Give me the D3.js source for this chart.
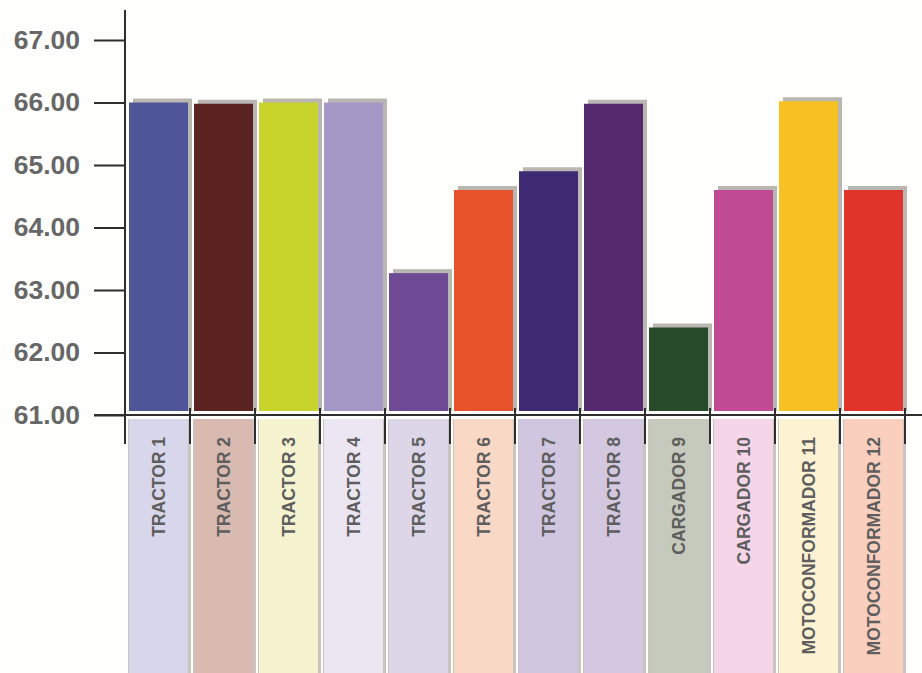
<!DOCTYPE html>
<html>
<head>
<meta charset="utf-8">
<script src="https://cdn.jsdelivr.net/npm/d3@7"></script>
<style>
  html, body { margin: 0; padding: 0; background: #fefefc; }
  svg { display: block; }
</style>
</head>
<body>
<svg id="chart" width="922" height="673"></svg>
<script>
const categories = ["TRACTOR 1","TRACTOR 2","TRACTOR 3","TRACTOR 4","TRACTOR 5","TRACTOR 6","TRACTOR 7","TRACTOR 8","CARGADOR 9","CARGADOR 10","MOTOCONFORMADOR 11","MOTOCONFORMADOR 12"];
const values = [66.0, 65.98, 66.0, 66.0, 63.27, 64.6, 64.9, 65.98, 62.4, 64.6, 66.02, 64.6];
const barColors = ["#4f5698","#5a2220","#c8d42c","#a698c6","#6e4a94","#e8522a","#3e2a72","#55296e","#274b2a","#c04a93","#f8c123","#e0332a"];
const boxColors = ["#d8d6ea","#d8bab0","#f5f3d0","#ece6f2","#ddd6e8","#fad8c6","#d0c6e0","#d4c8e0","#c6cabc","#f4d6e8","#fdf2d2","#fbcfbe"];
const yTicks = [61, 62, 63, 64, 65, 66, 67];

const svg = d3.select("#chart");
const axisY = 415, axisX = 125;
const y = d3.scaleLinear().domain([61, 67]).range([axisY, 40]);
const x = d3.scaleBand().domain(categories).range([axisX, 905]).padding(0);
const bw = x.bandwidth();
const barInset = 4, barW = bw - 6, barBottom = 411;

// bar shadows
svg.append("g").selectAll("rect").data(categories).join("rect")
  .attr("x", d => x(d) + barInset + 4)
  .attr("y", (d, i) => y(values[i]) - 4)
  .attr("width", barW)
  .attr("height", (d, i) => barBottom - (y(values[i]) - 4))
  .attr("fill", "#bab6b2");

// bars
svg.append("g").selectAll("rect").data(categories).join("rect")
  .attr("x", d => x(d) + barInset)
  .attr("y", (d, i) => y(values[i]))
  .attr("width", barW)
  .attr("height", (d, i) => barBottom - y(values[i]))
  .attr("fill", (d, i) => barColors[i]);

// label box shadows
svg.append("g").selectAll("rect").data(categories).join("rect")
  .attr("x", d => x(d) + barInset - 1)
  .attr("y", 419)
  .attr("width", barW + 4)
  .attr("height", 254)
  .attr("fill", "#c8c4c0");

// label boxes
svg.append("g").selectAll("rect").data(categories).join("rect")
  .attr("x", d => x(d) + barInset)
  .attr("y", 419)
  .attr("width", barW)
  .attr("height", 254)
  .attr("fill", (d, i) => boxColors[i]);

// category labels
svg.append("g").selectAll("text").data(categories).join("text")
  .attr("transform", d => `translate(${x(d) + barInset + barW / 2},437) rotate(-90)`)
  .attr("text-anchor", "end")
  .attr("dy", "0.36em")
  .attr("font-family", "'Liberation Sans', Arial, sans-serif")
  .attr("font-weight", "bold")
  .attr("font-size", "17.5px")
  .attr("fill", "#5e5e5e")
  .text(d => d);

// x-axis line
svg.append("line")
  .attr("x1", 94).attr("x2", 922)
  .attr("y1", axisY).attr("y2", axisY)
  .attr("stroke", "#2e2e2e").attr("stroke-width", 2);

// x band boundary ticks
const bounds = categories.map(d => x(d)).concat([x.range()[1]]);
svg.append("g").selectAll("line").data(bounds).join("line")
  .attr("x1", d => d).attr("x2", d => d)
  .attr("y1", 408).attr("y2", 444)
  .attr("stroke", "#2e2e2e").attr("stroke-width", 2);

// y-axis
svg.append("line")
  .attr("x1", axisX).attr("x2", axisX)
  .attr("y1", 10).attr("y2", 444)
  .attr("stroke", "#2e2e2e").attr("stroke-width", 2);

const yAxis = d3.axisLeft(y).tickValues(yTicks).tickSize(31).tickPadding(14)
  .tickFormat(d3.format(".2f"));
const gy = svg.append("g").attr("transform", `translate(${axisX},0)`).call(yAxis);
gy.select(".domain").remove();
gy.selectAll(".tick line").attr("stroke", "#2e2e2e").attr("stroke-width", 2);
gy.selectAll(".tick text")
  .attr("font-family", "'Liberation Sans', Arial, sans-serif")
  .attr("font-weight", "bold")
  .attr("font-size", "26.5px")
  .attr("fill", "#676767");
</script>
</body>
</html>
